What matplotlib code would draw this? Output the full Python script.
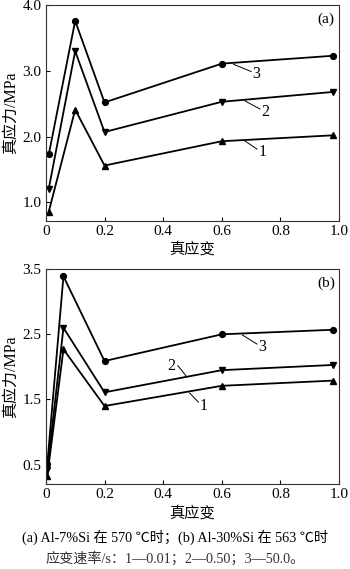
import matplotlib
matplotlib.use("Agg")
import matplotlib.pyplot as plt

plt.rcParams['font.family'] = ['Liberation Serif', 'Noto Sans CJK SC']
plt.rcParams['font.size'] = 11

# (a) Al-7%Si, 570 C
strain_a = [0.01, 0.10, 0.20, 0.60, 0.98]
a1 = [0.86, 2.41, 1.56, 1.93, 2.02]
a2 = [1.21, 3.30, 2.07, 2.53, 2.68]
a3 = [1.73, 3.76, 2.52, 3.11, 3.23]

# (b) Al-30%Si, 563 C
strain_b = [0.005, 0.06, 0.20, 0.60, 0.98]
b1 = [0.33, 2.27, 1.40, 1.71, 1.79]
b2 = [0.42, 2.60, 1.61, 1.95, 2.03]
b3 = [0.51, 3.39, 2.09, 2.50, 2.57]

xticks = [0, 0.2, 0.4, 0.6, 0.8, 1.0]
xticklabels = ['0', '0.2', '0.4', '0.6', '0.8', '1.0']
yticks_a = [1.0, 2.0, 3.0, 4.0]
yticks_b = [0.5, 1.5, 2.5, 3.5]

fig = plt.figure(figsize=(3.5, 5.69), dpi=100)
ax1 = fig.add_axes([0.131, 0.612, 0.838, 0.379])
ax2 = fig.add_axes([0.131, 0.149, 0.838, 0.378])

def style(ax, yticks, ylim, tag):
    ax.set_xlim(0, 1.0)
    ax.set_ylim(*ylim)
    ax.set_xticks(xticks)
    ax.set_xticklabels(xticklabels)
    ax.set_yticks(yticks)
    ax.set_yticklabels(['%.1f' % v for v in yticks])
    ax.tick_params(direction='in', length=3, width=0.8, labelsize=11, pad=3)
    for s in ax.spines.values():
        s.set_linewidth(0.8)
        s.set_color('#333333')
    ax.set_xlabel('真应变', fontsize=11, labelpad=3)
    ax.set_ylabel('真应力/MPa', fontsize=11.5, labelpad=3)
    ax.text(0.985, 0.965, tag, transform=ax.transAxes, ha='right', va='top', fontsize=11)

kw = dict(color='black', linewidth=1.3, markersize=4.2)
ax1.plot(strain_a, a1, marker='^', **kw)
ax1.plot(strain_a, a2, marker='v', **kw)
ax1.plot(strain_a, a3, marker='o', **kw)
style(ax1, yticks_a, (0.72, 4.0), '(a)')
ax1.plot([0.64, 0.70], [3.10, 2.99], color='black', lw=0.7)
ax1.text(0.705, 2.95, '3', fontsize=11.5, va='center')
ax1.plot([0.68, 0.73], [2.54, 2.42], color='black', lw=0.7)
ax1.text(0.735, 2.38, '2', fontsize=11.5, va='center')
ax1.plot([0.68, 0.72], [1.93, 1.81], color='black', lw=0.7)
ax1.text(0.725, 1.76, '1', fontsize=11.5, va='center')

ax2.plot(strain_b, b1, marker='^', **kw)
ax2.plot(strain_b, b2, marker='v', **kw)
ax2.plot(strain_b, b3, marker='o', **kw)
style(ax2, yticks_b, (0.2, 3.5), '(b)')
ax2.plot([0.67, 0.72], [2.49, 2.35], color='black', lw=0.7)
ax2.text(0.725, 2.30, '3', fontsize=11.5, va='center')
ax2.plot([0.45, 0.48], [2.02, 1.85], color='black', lw=0.7)
ax2.text(0.415, 2.02, '2', fontsize=11.5, va='center')
ax2.plot([0.49, 0.52], [1.60, 1.46], color='black', lw=0.7)
ax2.text(0.525, 1.40, '1', fontsize=11.5, va='center')

fig.text(0.5, 0.056, '(a) Al-7%Si 在 570 ℃时；(b) Al-30%Si 在 563 ℃时',
         ha='center', va='center', fontsize=10.2)
fig.text(0.5, 0.019, '应变速率/s：1—0.01；2—0.50；3—50.0。',
         ha='center', va='center', fontsize=10.2, color='#333333')

fig.savefig('out.png', dpi=100)
